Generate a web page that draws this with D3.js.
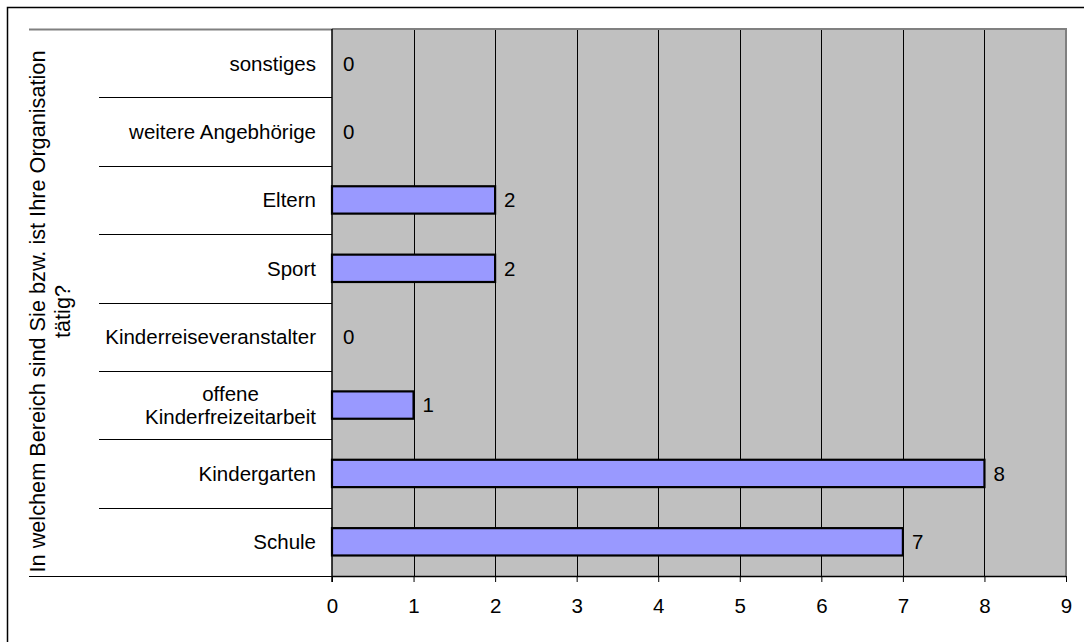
<!DOCTYPE html>
<html><head><meta charset="utf-8">
<script src="https://cdn.jsdelivr.net/npm/d3@7"></script>
<style>body{margin:0;background:#fff}svg{display:block}text{font-family:"Liberation Sans",Arial,sans-serif;fill:#000}</style>
</head><body><svg id="c" width="1084" height="642"></svg>
<script>
const categories = ["sonstiges","weitere Angebhörige","Eltern","Sport","Kinderreiseveranstalter","offene\nKinderfreizeitarbeit","Kindergarten","Schule"];
const values = [0,0,2,2,0,1,8,7];
const xTicks = [0,1,2,3,4,5,6,7,8,9];
const axisTitle = ["In welchem Bereich sind Sie bzw. ist Ihre Organisation","tätig?"];

const svg = d3.select("#c");
const L = 332, R = 1066, T = 29, B = 576;
const fs = 20.5, fsT = 21.7;
svg.append("rect").attr("x",7.5).attr("y",7.5).attr("width",1100).attr("height",700).attr("fill","none").attr("stroke","#000").attr("stroke-width",1.5);

const x = d3.scaleLinear().domain([0,9]).range([L,R]);
const y = d3.scaleBand().domain(categories).range([T,B]);
const bh = y.bandwidth()*0.4;

svg.append("rect").attr("x",L).attr("y",T).attr("width",R-L).attr("height",B-T).attr("fill","#C0C0C0");
svg.append("g").selectAll("line").data(xTicks.slice(1,-1)).join("line")
  .attr("x1",d=>Math.round(x(d))+0.5).attr("x2",d=>Math.round(x(d))+0.5).attr("y1",T).attr("y2",B)
  .attr("stroke","#000").attr("stroke-width",1);
svg.append("path").attr("d",`M${L},${T}H${R}V${B}`).attr("fill","none").attr("stroke","#808080").attr("stroke-width",2);

const bounds = categories.map(c=>y(c)).concat([B]);
svg.append("g").selectAll("line").data(bounds).join("line")
  .attr("x1",(d,i)=> (i===0||i===bounds.length-1)?29:99).attr("x2",L)
  .attr("y1",d=>Math.round(d)+0.5).attr("y2",d=>Math.round(d)+0.5)
  .attr("stroke",(d,i)=>i===0?"#808080":"#000").attr("stroke-width",(d,i)=>i===0?2:1);

svg.append("g").selectAll("rect").data(categories).join("rect")
  .attr("x",x(0)).attr("y",c=>y(c)+y.bandwidth()/2-bh/2)
  .attr("width",(c,i)=>x(values[i])-x(0)).attr("height",bh)
  .attr("fill",(c,i)=>values[i]>0?"#9999FF":"none").attr("stroke",(c,i)=>values[i]>0?"#000":"none").attr("stroke-width",2.2);

svg.append("g").selectAll("text").data(categories).join("text")
  .attr("x",(c,i)=>x(values[i])+(values[i]>0?9:11)).attr("y",c=>y(c)+y.bandwidth()/2).attr("dy","0.36em")
  .attr("font-size",fs).text((c,i)=>values[i]);

const xa = svg.append("g").attr("transform",`translate(0,${B})`).call(d3.axisBottom(x).tickValues(xTicks).tickSize(6).tickPadding(16).tickSizeOuter(0));
xa.select(".domain").attr("stroke","#000").attr("stroke-width",1.5).attr("d",`M${L},0.5H${R}`);
xa.selectAll(".tick line").attr("stroke","#000");
xa.selectAll(".tick text").attr("font-size",fs).attr("font-family","Liberation Sans, Arial, sans-serif");
svg.append("line").attr("x1",L).attr("x2",L).attr("y1",T).attr("y2",B+6).attr("stroke","#000").attr("stroke-width",1.5);

const lh = 23;
categories.forEach(c=>{
  const lines = c.split("\n");
  const g = svg.append("text").attr("font-size",fs).attr("text-anchor","middle");
  const cy = y(c)+y.bandwidth()/2;
  lines.forEach((ln,j)=>{
    g.append("tspan").attr("x",0).attr("y",cy+(j-(lines.length-1)/2)*lh).attr("dy","0.36em").text(ln);
  });
  let mw = 0; g.selectAll("tspan").each(function(){mw=Math.max(mw,this.getComputedTextLength());});
  g.selectAll("tspan").attr("x",316-mw/2);
});

const cyT = (T+B)/2 + 9;
axisTitle.forEach((t,j)=>{
  svg.append("text").attr("font-size",fsT).attr("text-anchor","middle")
    .attr("transform",`translate(${45+j*25},${cyT}) rotate(-90)`).text(t);
});
</script></body></html>
